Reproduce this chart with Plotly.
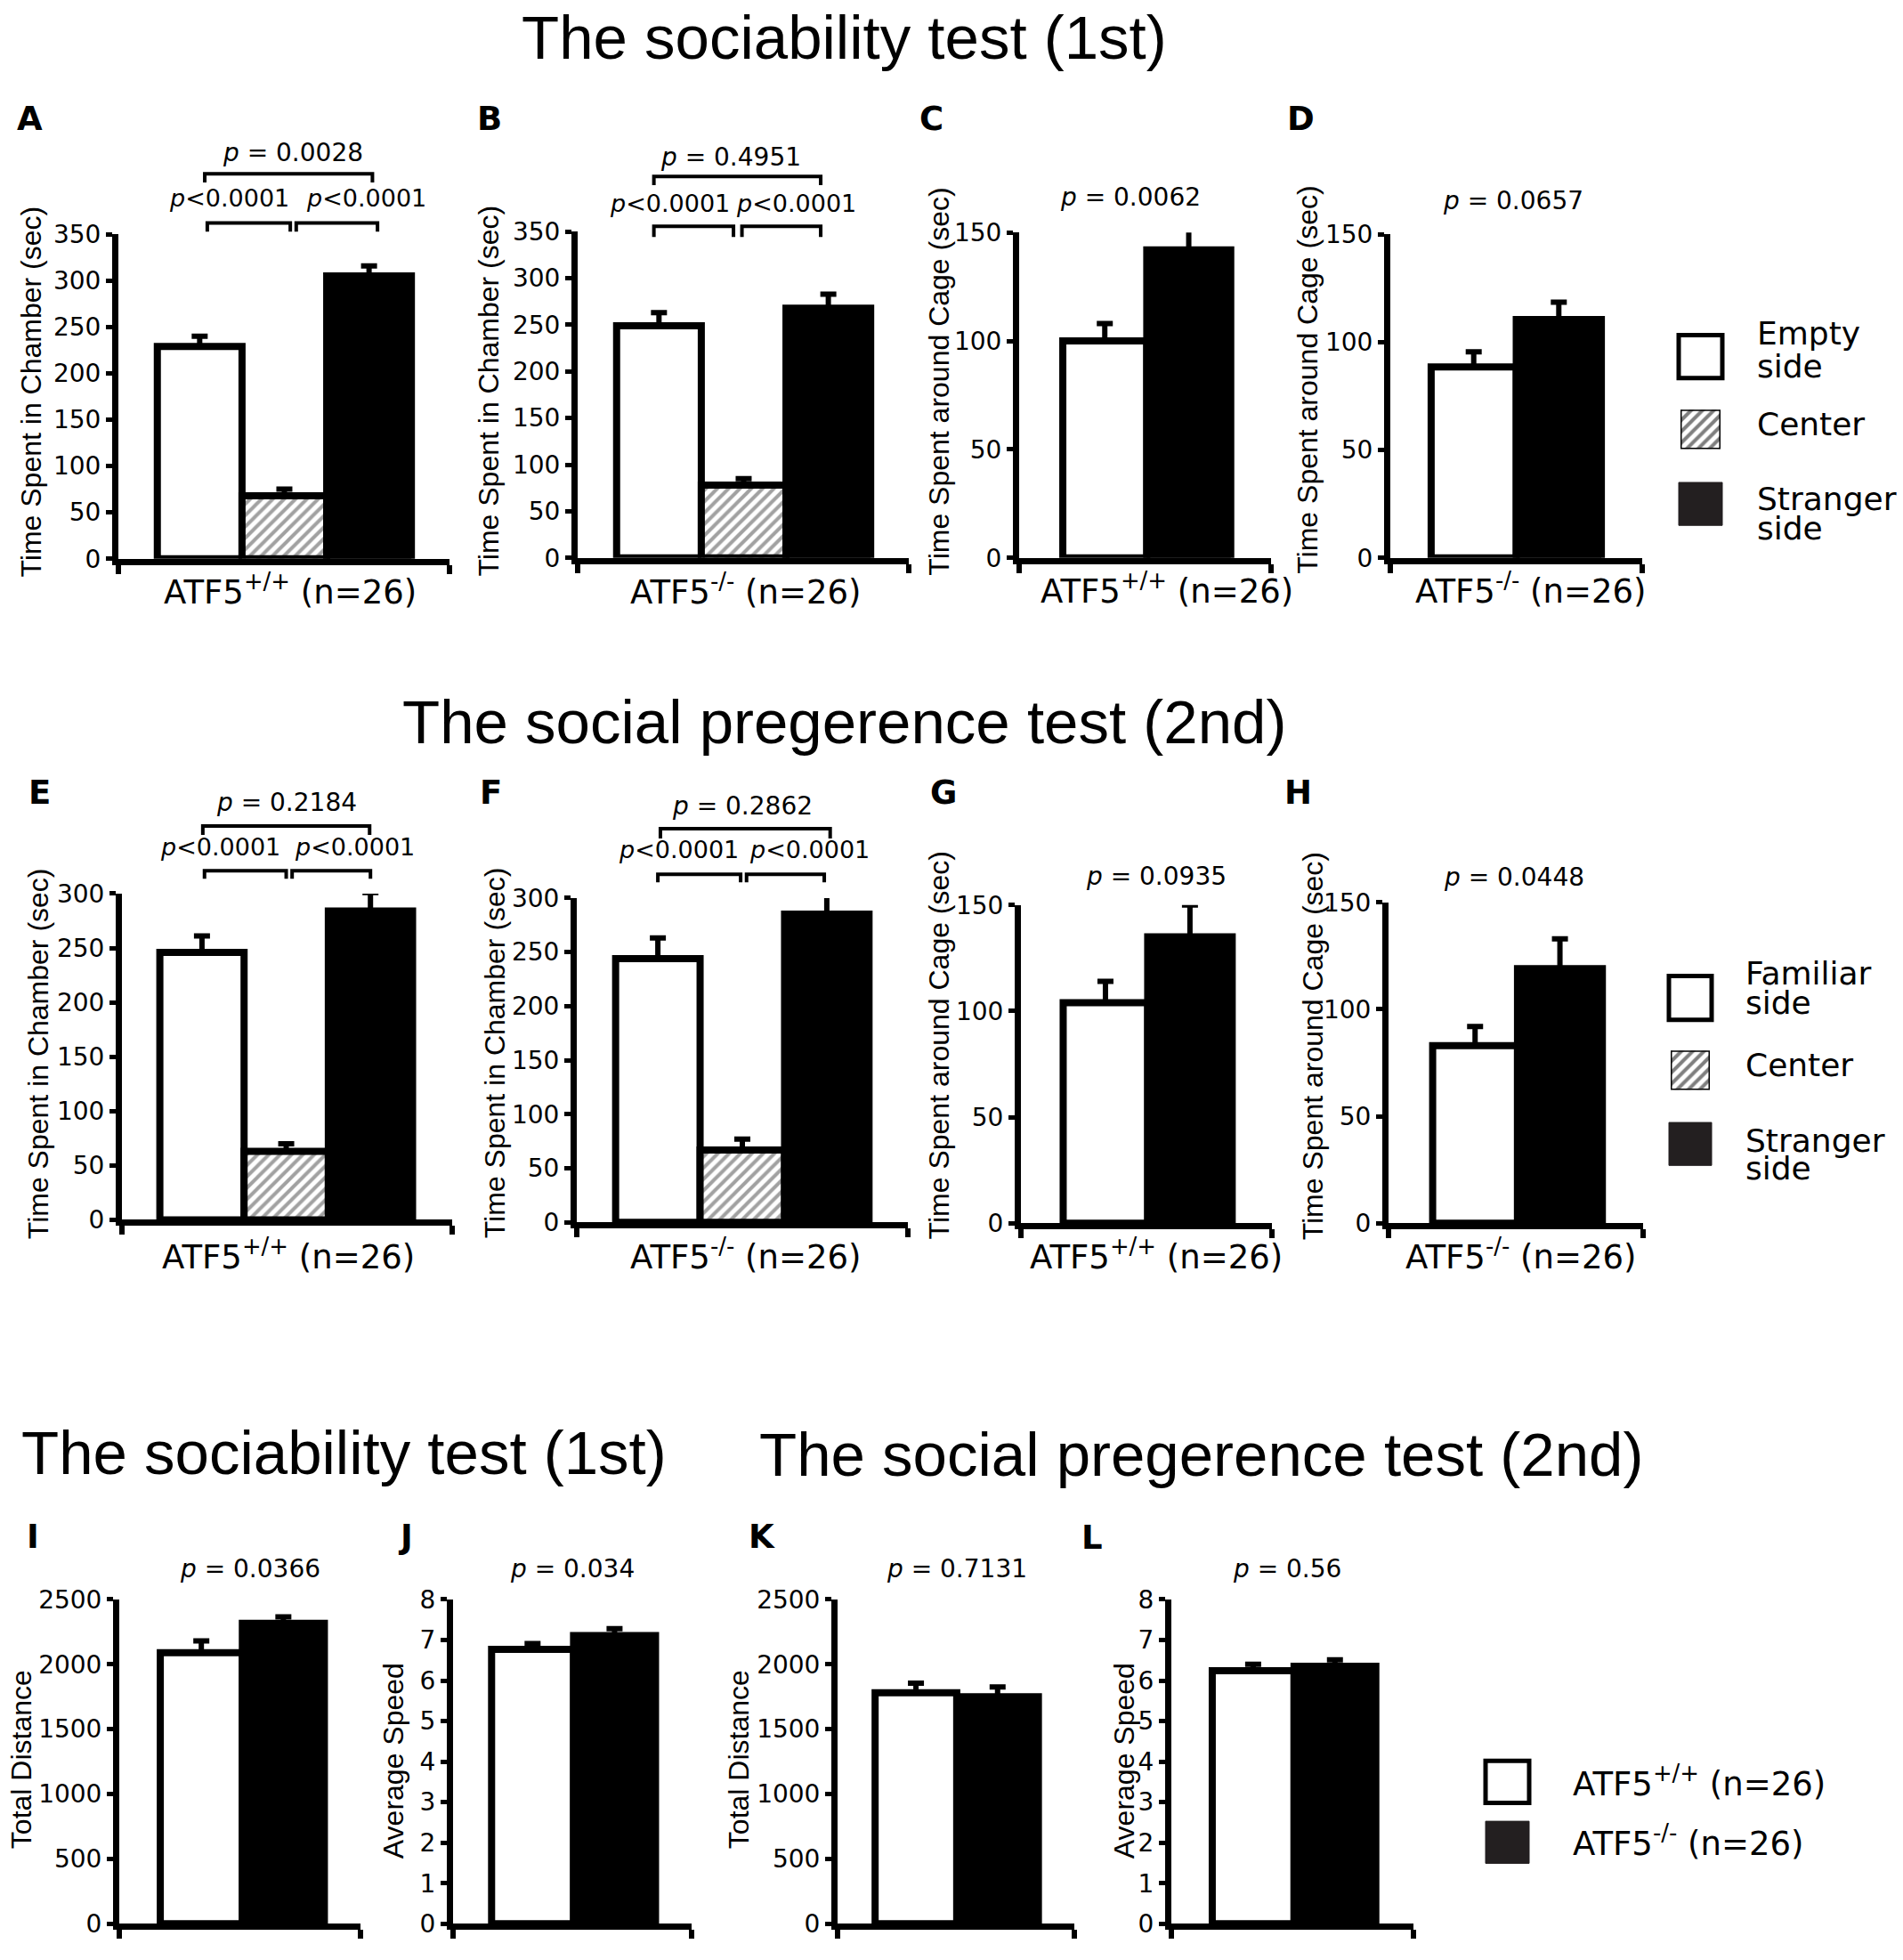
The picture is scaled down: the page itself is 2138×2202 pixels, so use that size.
import plotly.graph_objects as go

# ---------------- data ----------------
chamber_cats_1 = ["Empty side", "Center", "Stranger side"]
chamber_cats_2 = ["Familiar side", "Center", "Stranger side"]
cage_cats_1 = ["Empty side", "Stranger side"]
cage_cats_2 = ["Familiar side", "Stranger side"]
genotype_cats = ["ATF5+/+ (n=26)", "ATF5-/- (n=26)"]

a_vals = [229, 68, 305]
a_err = [11, 7, 11]
a_p = ["= 0.0028", "< 0.0001", "< 0.0001"]
b_vals = [249, 78, 268]
b_err = [14, 7, 15]
b_p = ["= 0.4951", "< 0.0001", "< 0.0001"]
c_vals = [100, 142]
c_err = [8, 12]
c_p = ["= 0.0062"]
d_vals = [88.5, 110.5]
d_err = [7, 8]
d_p = ["= 0.0657"]
e_vals = [246, 63, 284]
e_err = [15, 7, 17]
e_p = ["= 0.2184", "< 0.0001", "< 0.0001"]
f_vals = [244, 67, 285]
f_err = [19, 10, 20]
f_p = ["= 0.2862", "< 0.0001", "< 0.0001"]
g_vals = [104, 135]
g_err = [10, 15]
g_p = ["= 0.0935"]
h_vals = [83, 119]
h_err = [9, 14]
h_p = ["= 0.0448"]
i_vals = [2090, 2315]
i_err = [90, 50]
i_p = ["= 0.0366"]
j_vals = [6.77, 7.11]
j_err = [0.14, 0.17]
j_p = ["= 0.034"]
k_vals = [1780, 1750]
k_err = [75, 75]
k_p = ["= 0.7131"]
l_vals = [6.24, 6.35]
l_err = [0.16, 0.16]
l_p = ["= 0.56"]

titles = ["The sociability test (1st)", "The social pregerence test (2nd)",
          "The sociability test (1st)", "The social pregerence test (2nd)"]
legend1_labels = [["Empty", "side"], ["Center"], ["Stranger", "side"]]
legend2_labels = [["Familiar", "side"], ["Center"], ["Stranger", "side"]]
legend3_labels = ["ATF5<sup>+/+</sup> (n=26)", "ATF5<sup>-/-</sup> (n=26)"]
wt_label = "ATF5<sup>+/+</sup> (n=26)"
ko_label = "ATF5<sup>-/-</sup> (n=26)"

# ---------------- page geometry ----------------
W, H = 2138, 2202


def fx(x):
    return x / W


def fy(y):
    return 1 - y / H


NUM_FONT = "DejaVu Sans"
TXT_FONT = "Liberation Sans, Arial, sans-serif"
DARK = "#231f20"

T_CH = "Time Spent in Chamber (sec)"
T_CG = "Time Spent around Cage (sec)"

panels = [
    dict(L="A", cats=chamber_cats_1, vals=a_vals, err=a_err, p=a_p, box=(133, 505, 251, 621), xr=(-0.96, 2.95),
         ymax=350, dtick=50, lab=(33, 123), yt=T_CH, ytp=(35, 431), xl=wt_label, xlp=(326, 660),
         br=[(0.06, 2.04, 182, 192), (0.09, 1.07, 238, 248), (1.14, 2.10, 238, 248)],
         pp=[(1.1, 161), (0.35, 212), (1.97, 212)]),
    dict(L="B", cats=chamber_cats_1, vals=b_vals, err=b_err, p=b_p, box=(649, 1021, 248, 620), xr=(-0.96, 2.95),
         ymax=350, dtick=50, lab=(550, 123), yt=T_CH, ytp=(549, 430), xl=ko_label, xlp=(837, 660),
         br=[(-0.06, 1.91, 185, 195), (-0.06, 0.88, 242, 254), (0.98, 1.91, 242, 254)],
         pp=[(0.85, 166), (0.13, 218), (1.62, 218)]),
    dict(L="C", cats=cage_cats_1, vals=c_vals, err=c_err, p=c_p, box=(1145, 1428, 249, 620), xr=(-1.02, 1.98),
         ymax=150, dtick=50, lab=(1046, 123), yt=T_CG, ytp=(1055, 419), xl=wt_label, xlp=(1311, 659),
         br=[], pp=[(0.3, 211)]),
    dict(L="D", cats=cage_cats_1, vals=d_vals, err=d_err, p=d_p, box=(1562, 1845, 251, 620), xr=(-0.98, 1.98),
         ymax=150, dtick=50, lab=(1461, 123), yt=T_CG, ytp=(1469, 417), xl=ko_label, xlp=(1719, 659),
         br=[], pp=[(0.46, 216)]),
    dict(L="E", cats=chamber_cats_2, vals=e_vals, err=e_err, p=e_p, box=(137, 508, 1003, 1375), xr=(-0.95, 2.97),
         ymax=300, dtick=50, lab=(44, 892), yt=T_CH, ytp=(43, 1186), xl=wt_label, xlp=(324, 1418),
         br=[(0.01, 1.99, 926, 936), (0.03, 1.0, 977, 986), (1.07, 2.0, 977, 986)],
         pp=[(1.0, 902), (0.22, 952), (1.81, 952)]),
    dict(L="F", cats=chamber_cats_2, vals=f_vals, err=f_err, p=f_p, box=(648, 1020, 1008, 1378), xr=(-0.96, 2.96),
         ymax=300, dtick=50, lab=(551, 892), yt=T_CH, ytp=(556, 1185), xl=ko_label, xlp=(837, 1418),
         br=[(0.03, 2.04, 929, 940), (0.0, 0.98, 981, 990), (1.05, 1.97, 981, 990)],
         pp=[(1.0, 906), (0.25, 956), (1.8, 956)]),
    dict(L="G", cats=cage_cats_2, vals=g_vals, err=g_err, p=g_p, box=(1147, 1429, 1016, 1379), xr=(-1.0, 1.97),
         ymax=150, dtick=50, lab=(1060, 892), yt=T_CG, ytp=(1055, 1176), xl=wt_label, xlp=(1299, 1418),
         br=[], pp=[(0.6, 986)]),
    dict(L="H", cats=cage_cats_2, vals=h_vals, err=h_err, p=h_p, box=(1560, 1846, 1013, 1379), xr=(-1.02, 1.98),
         ymax=150, dtick=50, lab=(1458, 892), yt=T_CG, ytp=(1475, 1177), xl=ko_label, xlp=(1708, 1418),
         br=[], pp=[(0.46, 987)]),
    dict(L="I", cats=genotype_cats, vals=i_vals, err=i_err, p=i_p, box=(134, 405, 1808, 2178), xr=(-1.0, 1.94),
         ymax=2500, dtick=500, lab=(37, 1740), yt="Total Distance", ytp=(24, 1991), xl=None, xlp=None,
         br=[], pp=[(0.6, 1776)]),
    dict(L="J", cats=genotype_cats, vals=j_vals, err=j_err, p=j_p, box=(509, 777, 1808, 2178), xr=(-0.97, 1.94),
         ymax=8, dtick=1, lab=(455, 1740), yt="Average Speed", ytp=(442, 1992), xl=None, xlp=None,
         br=[], pp=[(0.49, 1776)]),
    dict(L="K", cats=genotype_cats, vals=k_vals, err=k_err, p=k_p, box=(941, 1207, 1808, 2178), xr=(-0.96, 1.94),
         ymax=2500, dtick=500, lab=(856, 1740), yt="Total Distance", ytp=(830, 1991), xl=None, xlp=None,
         br=[], pp=[(0.5, 1776)]),
    dict(L="L", cats=genotype_cats, vals=l_vals, err=l_err, p=l_p, box=(1316, 1588, 1808, 2178), xr=(-1.0, 1.96),
         ymax=8, dtick=1, lab=(1227, 1741), yt="Average Speed", ytp=(1263, 1992), xl=None, xlp=None,
         br=[], pp=[(0.42, 1776)]),
]

fig = go.Figure()
shapes = []
annotations = []


def ann(x, y, text, size, family=NUM_FONT, xanchor="center", yanchor="middle", angle=0, xref="paper",
        bold=False, yshift=None):
    if yshift is None:
        yshift = 0.1 * size if angle == 0 else 0
    annotations.append(dict(
        x=x, y=y, xref=xref, yref="paper", text=("<b>%s</b>" % text) if bold else text,
        showarrow=False, xanchor=xanchor, yanchor=yanchor, textangle=angle, yshift=yshift,
        font=dict(family=family, size=size, color="black")))


for idx, p in enumerate(panels):
    n = idx + 1
    sfx = "" if n == 1 else str(n)
    xa, ya = "x" + sfx, "y" + sfx
    xl, xr, yt, yb = p["box"]
    nb = len(p["vals"])
    xs = list(range(nb))
    if nb == 3:
        colors = ["white", "white", "black"]
        pats = ["", "/", ""]
    else:
        colors = ["white", "black"]
        pats = ["", ""]
    fig.add_trace(go.Bar(
        x=xs, y=p["vals"], width=[1] * nb, hovertext=p["cats"],
        marker=dict(color=colors, line=dict(color="black", width=8),
                    pattern=dict(shape=pats, fgcolor="black", size=9, solidity=0.45)),
        error_y=dict(type="data", symmetric=False, array=p["err"], arrayminus=[0] * nb,
                     color="black", thickness=6, width=9),
        cliponaxis=False, showlegend=False, xaxis=xa, yaxis=ya))
    fig.update_layout(**{
        "xaxis" + sfx: dict(domain=[fx(xl), fx(xr)], range=list(p["xr"]), anchor=ya,
                            showline=True, linewidth=7, linecolor="black",
                            ticks="outside", ticklen=10, tickwidth=6, tickcolor="black",
                            tickmode="array", tickvals=list(p["xr"]), showticklabels=False,
                            showgrid=False, zeroline=False, fixedrange=True),
        "yaxis" + sfx: dict(domain=[fy(yb), fy(yt)], range=[0, p["ymax"]], anchor=xa,
                            showline=True, linewidth=7, linecolor="black",
                            ticks="outside", ticklen=7, tickwidth=5, tickcolor="black",
                            tickmode="linear", tick0=0, dtick=p["dtick"],
                            tickfont=dict(family=NUM_FONT, size=28, color="black"),
                            showgrid=False, zeroline=False, fixedrange=True),
    })
    # panel letter
    ann(fx(p["lab"][0]), fy(p["lab"][1]), p["L"], 37, family="DejaVu Sans", bold=True)
    # y title
    ann(fx(p["ytp"][0]), fy(p["ytp"][1]), p["yt"], 32, family=TXT_FONT, angle=-90)
    # x label
    if p["xl"]:
        ann(fx(p["xlp"][0]), fy(p["xlp"][1]), p["xl"], 37)
    # brackets
    for (x0, x1, ytop, yleg) in p["br"]:
        shapes.append(dict(type="path", xref=xa, yref="paper",
                           path="M %f,%f L %f,%f L %f,%f L %f,%f" % (
                               x0, fy(yleg), x0, fy(ytop), x1, fy(ytop), x1, fy(yleg)),
                           line=dict(color="black", width=4)))
    # p values
    for (xp, ypix), txt in zip(p["pp"], p["p"]):
        if txt.startswith("<"):
            ann(xp, fy(ypix), "<i>p</i>&lt;" + txt[1:].strip(), 27, xref=xa)
        else:
            ann(xp, fy(ypix), "<i>p</i> " + txt, 28, xref=xa)

# ---------------- titles ----------------
ann(fx(948), fy(0), titles[0], 69, family=TXT_FONT, yanchor="top", yshift=14)
title_pos = [(948, 815), (386, 1648), (1349, 1650)]
for (tx, ty), t in zip(title_pos, titles[1:]):
    ann(fx(tx), fy(ty), t, 69, family=TXT_FONT)


# ---------------- legends ----------------
def legend_square(x0, x1, y0, y1, kind, ax_n=None):
    if kind == "white":
        shapes.append(dict(type="rect", xref="paper", yref="paper", x0=fx(x0), x1=fx(x1), y0=fy(y1), y1=fy(y0),
                           fillcolor="white", line=dict(color="black", width=5)))
    elif kind == "dark":
        shapes.append(dict(type="rect", xref="paper", yref="paper", x0=fx(x0), x1=fx(x1), y0=fy(y1), y1=fy(y0),
                           fillcolor=DARK, line=dict(color=DARK, width=1)))
    else:
        sfx = str(ax_n)
        fig.add_trace(go.Bar(x=[0], y=[1], width=[1],
                             marker=dict(color="white", line=dict(color="black", width=3),
                                         pattern=dict(shape="/", fgcolor="black", size=9, solidity=0.45)),
                             cliponaxis=False, showlegend=False, hoverinfo="skip",
                             xaxis="x" + sfx, yaxis="y" + sfx))
        fig.update_layout(**{
            "xaxis" + sfx: dict(domain=[fx(x0 + 2), fx(x1 - 2)], range=[-0.5, 0.5], visible=False, anchor="y" + sfx),
            "yaxis" + sfx: dict(domain=[fy(y1 - 2), fy(y0 + 2)], range=[0, 1], visible=False, anchor="x" + sfx),
        })


# legend 1 (sociability)
legend_square(1886, 1935, 366, 415, "white")
legend_square(1886, 1935, 449, 498, "hatch", 13)
legend_square(1886, 1935, 534, 583, "dark")
leg1_text_y = [[368, 405], [471], [556, 590]]
for lines, ys in zip(legend1_labels, leg1_text_y):
    for t, yy in zip(lines, ys):
        ann(fx(1972), fy(yy), t, 36, xanchor="left")

# legend 2 (social preference)
legend_square(1875, 1923, 1097, 1147, "white")
legend_square(1875, 1923, 1180, 1229, "hatch", 14)
legend_square(1875, 1923, 1264, 1313, "dark")
leg2_text_y = [[1098, 1131], [1202], [1288, 1320]]
for lines, ys in zip(legend2_labels, leg2_text_y):
    for t, yy in zip(lines, ys):
        ann(fx(1959), fy(yy), t, 36, xanchor="left")

# legend 3 (genotypes)
legend_square(1669, 1718, 1992, 2040, "white")
legend_square(1669, 1718, 2061, 2109, "dark")
for t, yy in zip(legend3_labels, [2019, 2087]):
    ann(fx(1765), fy(yy), t, 37, xanchor="left")

fig.update_layout(width=W, height=H, margin=dict(l=0, r=0, t=0, b=0),
                  paper_bgcolor="white", plot_bgcolor="white", showlegend=False,
                  shapes=shapes, annotations=annotations, bargap=0)

fig.write_html("out.html",
               config={"displayModeBar": False, "staticPlot": True},
               post_script="document.documentElement.style.margin='0';document.body.style.margin='0';"
                           "document.body.style.padding='0';document.documentElement.style.overflow='hidden';"
                           "document.body.style.overflow='hidden';")
